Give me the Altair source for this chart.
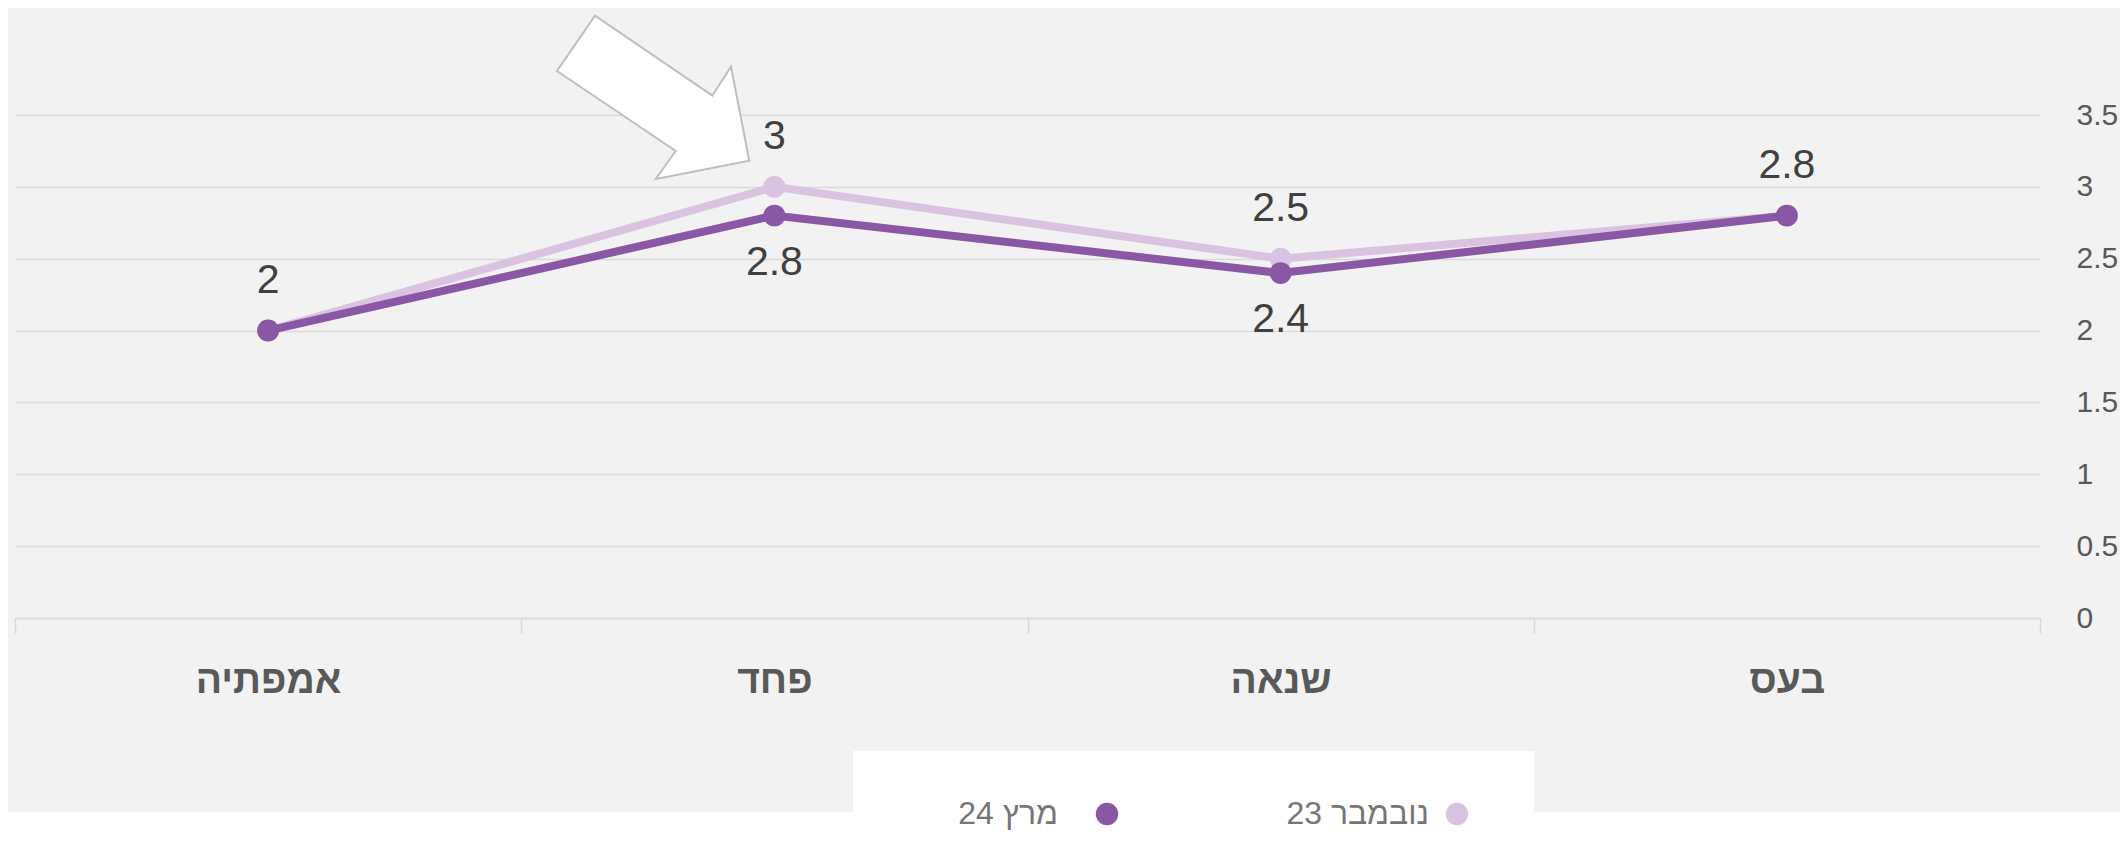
import altair as alt
import pandas as pd

# ---------------- data ----------------
categories = ["אמפתיה", "פחד", "שנאה", "בעס"]
series_names = ["נובמבר 23", "מרץ 24"]
nov_values = [2, 3, 2.5, 2.8]
mar_values = [2, 2.8, 2.4, 2.8]
y_ticks = [0, 0.5, 1, 1.5, 2, 2.5, 3, 3.5]
series_colors = ["#D9C3E0", "#8A57A5"]

rows = []
for s, vals in zip(series_names, [nov_values, mar_values]):
    for c, v in zip(categories, vals):
        rows.append({"category": c, "series": s, "value": v})
df = pd.DataFrame(rows)
first_map = dict(zip(categories, nov_values))
df["dup"] = [
    (r.series != series_names[0]) and (r.value == first_map[r.category])
    for r in df.itertuples()
]

# ---------------- style / layout ----------------
FONT = "Liberation Sans"
W, H = 2025, 503
PAD_L, PAD_T = 7, 107
TOTAL_W, TOTAL_H = 2112, 850
GRID = "#D9D9D9"
ARROW_PATH = ("M -55 -84.3 L 62.3 -4.3 L 81 -33.3 L 99.3 60.7 "
              "L 5.7 79 L 25.7 51 L -93 -29 Z")

color_scale = alt.Scale(domain=series_names, range=series_colors)

x_enc = alt.X(
    "category:N",
    sort=categories,
    bandPosition=0.5,
    scale=alt.Scale(type="band", paddingInner=0, paddingOuter=0),
    axis=alt.Axis(
        title=None, labelAngle=0, labelFont=FONT, labelFontSize=39,
        labelFontWeight="bold", labelColor="#595959", labelBaseline="middle",
        labelPadding=47, tickBand="extent", tickSize=15, tickColor=GRID,
        tickWidth=1.5, domainColor=GRID, domainWidth=1.5, grid=False,
    ),
)
y_enc = alt.Y(
    "value:Q",
    scale=alt.Scale(domain=[0, 3.5], nice=False, zero=True),
    axis=alt.Axis(
        title=None, orient="right", values=y_ticks, format="~g", grid=True,
        gridColor=GRID, gridWidth=1.5, domain=False, ticks=False,
        labelPadding=36, labelFont=FONT, labelFontSize=30,
        labelColor="#595959", labelAlign="left", labelBaseline="middle",
    ),
)

base = alt.Chart(df)
dummy = alt.Chart(pd.DataFrame({"a": [0]}))

white_bottom = dummy.mark_rect(color="white").encode(
    x=alt.value(-20), x2=alt.value(2200), y=alt.value(697), y2=alt.value(900)
)
legend_box = dummy.mark_rect(color="white").encode(
    x=alt.value(838), x2=alt.value(1519), y=alt.value(636), y2=alt.value(900)
)

layers = [white_bottom, legend_box]
for s in series_names:
    sub = base.transform_filter(alt.datum.series == s)
    layers.append(
        sub.mark_line(strokeWidth=8).encode(
            x=x_enc, y=y_enc,
            color=alt.Color("series:N", scale=color_scale, legend=None),
        )
    )
    layers.append(
        sub.mark_point(filled=True, size=480, opacity=1).encode(
            x=x_enc, y=y_enc,
            color=alt.Color("series:N", scale=color_scale, legend=None),
        )
    )

# data labels
label_above = base.transform_filter(alt.datum.series == series_names[0]).mark_text(
    dy=-50, font=FONT, fontSize=41, color="#404040"
).encode(x=x_enc, y=y_enc, text=alt.Text("value:Q", format="~g"))
label_below = base.transform_filter(
    (alt.datum.series == series_names[1]) & (alt.datum.dup == False)
).mark_text(
    dy=47, font=FONT, fontSize=41, color="#404040"
).encode(x=x_enc, y=y_enc, text=alt.Text("value:Q", format="~g"))
layers += [label_above, label_below]

# arrow callout
arrow = dummy.mark_point(
    shape=ARROW_PATH, size=4, filled=True, fill="white", stroke="#BFBFBF",
    strokeWidth=2, opacity=1,
).encode(x=alt.value(635), y=alt.value(-15))
layers.append(arrow)

# manual legend (symbol to the right of the text, right-to-left order)
legend_pos = {series_names[0]: (1442, 1414), series_names[1]: (1092, 1043)}
leg_df = pd.DataFrame({"series": series_names})
for s in series_names:
    cx, tx = legend_pos[s]
    sub = alt.Chart(leg_df).transform_filter(alt.datum.series == s)
    layers.append(
        sub.mark_point(filled=True, size=500, opacity=1).encode(
            x=alt.value(cx), y=alt.value(699),
            color=alt.Color("series:N", scale=color_scale, legend=None),
        )
    )
    layers.append(
        sub.mark_text(align="right", baseline="middle", font=FONT,
                      fontSize=32, color="#767676").encode(
            x=alt.value(tx), y=alt.value(699), text="series:N"
        )
    )

chart = alt.layer(*layers).properties(
    width=W, height=H,
    autosize=alt.AutoSizeParams(type="none"),
    padding={"left": PAD_L, "top": PAD_T,
             "right": TOTAL_W - PAD_L - W, "bottom": TOTAL_H - PAD_T - H},
    background="#F2F2F2",
).configure_view(strokeWidth=0)

chart.save("out.html", embed_options={"renderer": "svg", "actions": False})
